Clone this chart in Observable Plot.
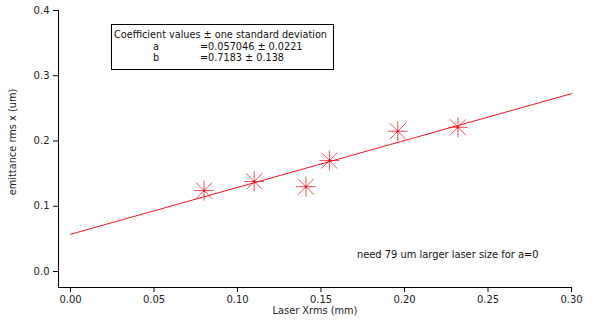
<!DOCTYPE html>
<html>
<head>
<meta charset="utf-8">
<script src="https://cdn.jsdelivr.net/npm/d3@7"></script>
<script src="https://cdn.jsdelivr.net/npm/@observablehq/plot@0.6"></script>
<style>
  html, body { margin: 0; padding: 0; background: #fff; }
  #wrap { position: relative; width: 597px; height: 324px; font-family: "DejaVu Sans", sans-serif; }
  #legend { position: absolute; left: 111px; top: 24px; border: 1px solid #000;
    font-size: 9.7px; color: #111; line-height: 11.7px; background: #fff; }
  #legend .r { position: relative; height: 11.7px; white-space: nowrap; }
  #legend .c1 { position: absolute; left: 41px; }
  #legend .c2 { position: absolute; left: 88px; }
</style>
</head>
<body>
<div id="wrap"></div>
<script>
// Measured points
const laserX = [0.080, 0.110, 0.141, 0.155, 0.196, 0.232];
const emitX  = [0.124, 0.138, 0.130, 0.170, 0.215, 0.221];
// Fit coefficients
const coefA = 0.057046, coefB = 0.7183;
const fitRange = [0, 0.30];
const xTicks = [0, 0.05, 0.10, 0.15, 0.20, 0.25, 0.30];
const yTicks = [0, 0.1, 0.2, 0.3, 0.4];
const legendLines = [
  ["Coefficient values ± one standard deviation"],
  ["a", "=0.057046 ± 0.0221"],
  ["b", "=0.7183 ± 0.138"]
];
const note = "need 79 um larger laser size for a=0";

const points = laserX.map((x, i) => ({x, y: emitX[i]}));
const fit = fitRange.map(x => ({x, y: coefA + coefB * x}));

const star8 = {
  draw(ctx, size) {
    const r = Math.sqrt(size / Math.PI);
    const d = r * 0.8;
    ctx.moveTo(-r, 0); ctx.lineTo(r, 0);
    ctx.moveTo(0, -r); ctx.lineTo(0, r);
    ctx.moveTo(-d, -d); ctx.lineTo(d, d);
    ctx.moveTo(-d, d); ctx.lineTo(d, -d);
  }
};

const red = "#f0141e";
const chart = Plot.plot({
  width: 597, height: 324,
  marginLeft: 58, marginRight: 26, marginTop: 10, marginBottom: 37,
  style: {fontFamily: "DejaVu Sans, sans-serif", fontSize: "10px", color: "#222", background: "transparent"},
  x: {domain: [-0.00719, 0.30]},
  y: {domain: [-0.0245, 0.40]},
  marks: [
    Plot.frame({anchor: "left", stroke: "#000"}),
    Plot.frame({anchor: "bottom", stroke: "#000"}),
    Plot.axisY({ticks: yTicks, tickFormat: d3.format(".1f"), tickSize: 5, tickPadding: 4, label: null, stroke: "#000"}),
    Plot.axisX({ticks: xTicks, tickFormat: d3.format(".2f"), tickSize: 5, tickPadding: 3, label: null, stroke: "#000"}),
    Plot.text(["emittance rms x (um)"], {frameAnchor: "left", textAnchor: "middle", rotate: -90, dx: -46, dy: -7, fontSize: 9.8}),
    Plot.text(["Laser Xrms (mm)"], {frameAnchor: "bottom", textAnchor: "middle", dy: 26, fontSize: 9.8}),
    Plot.line(fit, {x: "x", y: "y", stroke: red, strokeWidth: 1}),
    Plot.dot(points, {x: "x", y: "y", r: 10, symbol: star8, stroke: red, strokeWidth: 1, strokeOpacity: 0.75}),
    Plot.dot(points, {x: "x", y: "y", r: 1.3, fill: red, stroke: "none"}),
    Plot.text([note], {x: 0.1715, y: 0.026, textAnchor: "start", fontSize: 9.9, fill: "#111"})
  ]
});
const wrap = document.getElementById("wrap");
wrap.appendChild(chart);
chart.style.position = "absolute"; chart.style.left = "0"; chart.style.top = "0";

const lg = document.createElement("div");
lg.id = "legend";
legendLines.forEach((row, i) => {
  const r = document.createElement("div");
  r.className = "r";
  if (row.length === 1) {
    r.style.paddingLeft = "2px";
    r.textContent = row[0];
  } else {
    const a = document.createElement("span"); a.className = "c1"; a.textContent = row[0];
    const b = document.createElement("span"); b.className = "c2"; b.textContent = row[1];
    r.appendChild(a); r.appendChild(b);
  }
  lg.appendChild(r);
});
lg.style.paddingTop = "4px";
lg.style.boxSizing = "border-box";
lg.style.height = "46px";
lg.style.width = "223px";
wrap.appendChild(lg);
</script>
</body>
</html>
